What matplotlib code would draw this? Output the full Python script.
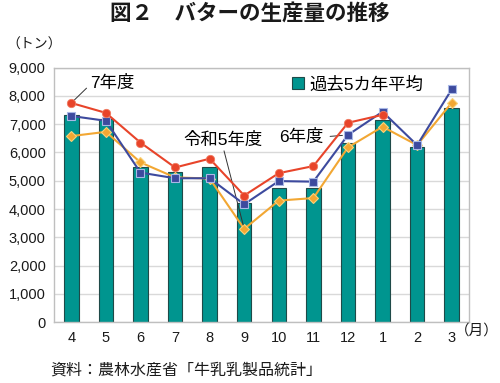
import matplotlib
matplotlib.use("Agg")
import matplotlib.pyplot as plt
import numpy as np
from matplotlib.ticker import FuncFormatter

plt.rcParams['font.family'] = ['Liberation Sans', 'Noto Sans CJK JP']

months = ["4", "5", "6", "7", "8", "9", "10", "11", "12", "1", "2", "3"]
avg5 = [7330, 7200, 5500, 5300, 5500, 4200, 4750, 4750, 6350, 7150, 6200, 7570]
r7 = [7750, 7400, 6350, 5470, 5780, 4480, 5270, 5520, 7050, 7330]
r6 = [7290, 7120, 5290, 5090, 5090, 4170, 4990, 4970, 6620, 7440, 6260, 8230]
r5 = [6580, 6730, 5650, 5120, 5080, 3300, 4300, 4390, 6180, 6910, 6260, 7760]

x = np.arange(len(months))

fig = plt.figure(figsize=(5.0, 3.83), dpi=100)
ax = fig.add_axes([0.108, 0.1585, 0.83, 0.665])

ax.yaxis.grid(True, color='#d9d9d9', linewidth=1.0)
ax.set_axisbelow(True)
bars = ax.bar(x, avg5, width=0.42, color='#00958f', edgecolor='#1f4a48', linewidth=0.8, zorder=2)

ax.plot(x, r5, color='#f2a733', marker='D', markersize=5, markerfacecolor='#f2a733',
        markeredgecolor='#f9d27a', markeredgewidth=0.8, linewidth=1.5, zorder=3)
ax.plot(x, r6, color='#3d4a9e', marker='s', markersize=6, markerfacecolor='#3d4a9e',
        markeredgecolor='#a9b8e6', markeredgewidth=0.8, linewidth=1.5, zorder=4)
ax.plot(x[:len(r7)], r7, color='#e8442a', marker='o', markersize=6, markerfacecolor='#e8442a',
        markeredgecolor='#f07a60', markeredgewidth=0.6, linewidth=1.5, zorder=5)

ax.set_xlim(-0.5, 11.5)
ax.set_ylim(0, 9000)
ax.set_yticks(np.arange(0, 9001, 1000))
ax.yaxis.set_major_formatter(FuncFormatter(lambda v, p: "{:,}".format(int(v))))
ax.set_xticks(x)
ax.set_xticklabels(months)
ax.tick_params(axis='both', length=0, labelsize=10.5, colors='#1a1a1a')
ax.tick_params(axis='x', pad=6)
ax.tick_params(axis='y', pad=6)
for s in ax.spines.values():
    s.set_color('#bfbfbf')
    s.set_linewidth(1.0)

# annotations
ax.annotate("7年度", xy=(0, 7750), xytext=(0.55, 8460), fontsize=12.5, va='center', ha='left',
            arrowprops=dict(arrowstyle='-', color='#333333', lw=0.7, shrinkA=1, shrinkB=3,
                            relpos=(0.0, 0.4)))
ax.annotate("令和5年度", xy=(5, 3300), xytext=(3.25, 6440), fontsize=12.5, va='center', ha='left',
            arrowprops=dict(arrowstyle='-', color='#333333', lw=0.7, shrinkA=0, shrinkB=3,
                            relpos=(0.5, 0.0)))
ax.annotate("6年度", xy=(8, 6620), xytext=(6.0, 6550), fontsize=12.5, va='center', ha='left',
            arrowprops=dict(arrowstyle='-', color='#333333', lw=0.7, shrinkA=3, shrinkB=4,
                            relpos=(1.0, 0.5)))

leg = ax.legend([bars], ["過去5カ年平均"], loc='center left', bbox_to_anchor=(0.545, 0.935),
                frameon=False, fontsize=12.5, handlelength=0.7, handleheight=0.7,
                handletextpad=0.3, borderpad=0.2)

fig.text(0.5, 0.962, "図２　バターの生産量の推移", ha='center', va='center',
         fontsize=15.5, fontweight='bold', color='#1a1a1a')
fig.text(0.012, 0.883, "（トン）", ha='left', va='center', fontsize=10, color='#1a1a1a')
fig.text(0.998, 0.136, "（月）", ha='right', va='center', fontsize=10.5, color='#1a1a1a')
fig.text(0.1, 0.034, "資料：農林水産省「牛乳乳製品統計」", ha='left', va='center',
         fontsize=11.5, color='#1a1a1a')

plt.savefig("out.png", dpi=100)
